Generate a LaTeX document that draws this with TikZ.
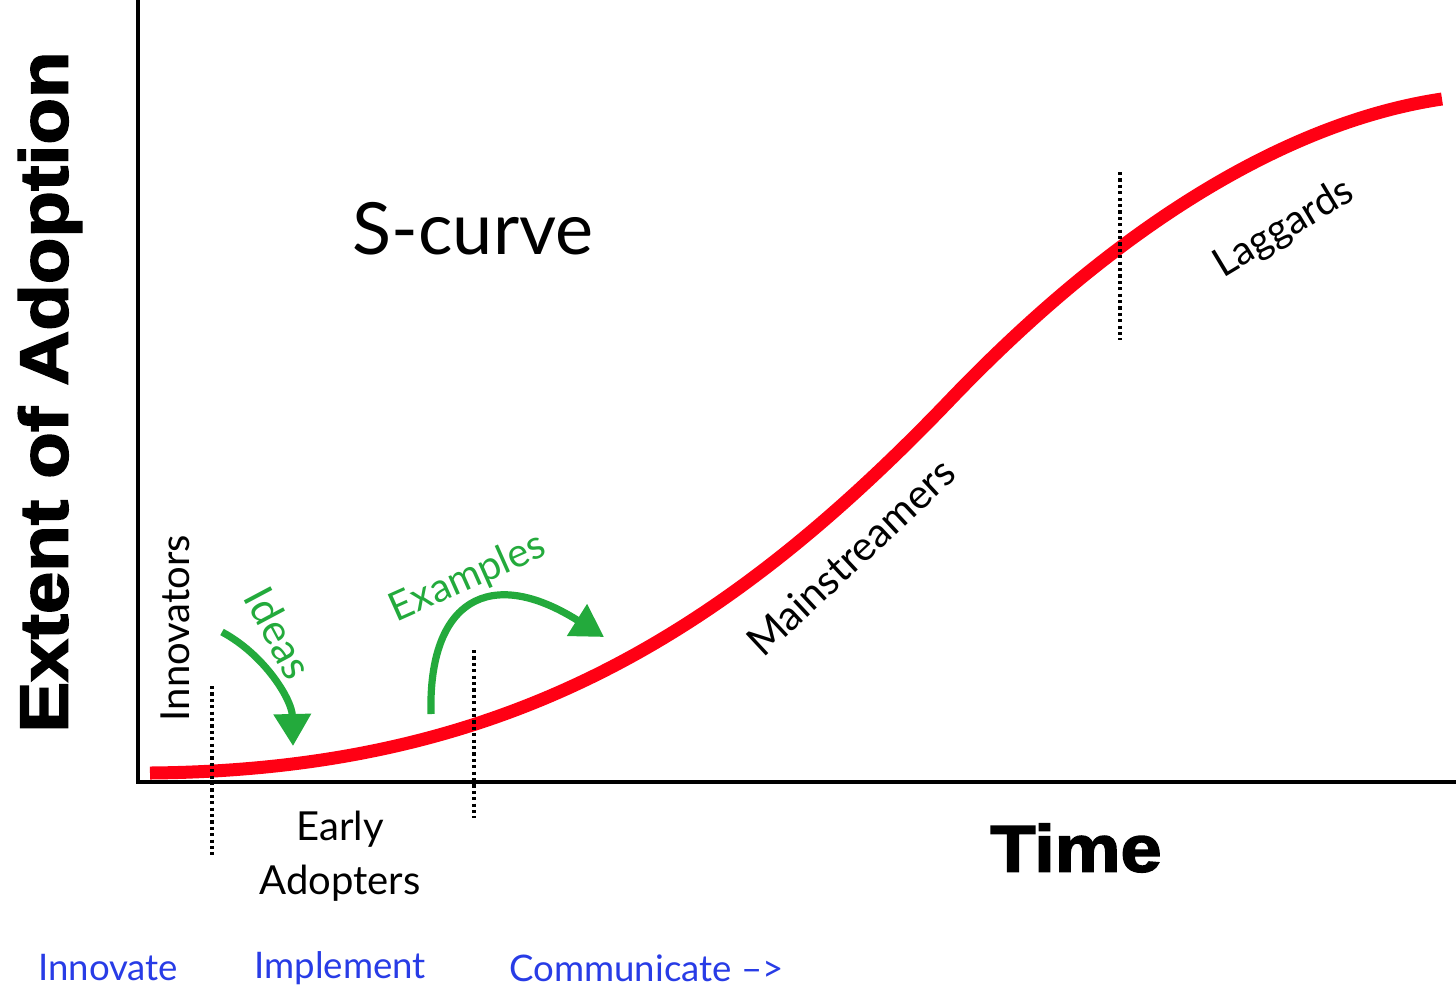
\documentclass[tikz,border=0pt]{standalone}
\usepackage{fontspec}
\setmainfont{Lato}
\newfontfamily\heavyfont[FakeBold=2.5,FakeStretch=1.12]{Liberation Sans Bold}
\usetikzlibrary{arrows.meta}
\definecolor{curvered}{RGB}{255,0,20}
\definecolor{arrowgreen}{RGB}{35,170,60}
\definecolor{stageblue}{RGB}{40,60,230}
\tikzset{
  axis/.style={line width=2.2pt,black},
  scurve/.style={line width=6.5pt,curvered},
  divider/.style={line width=1.6pt,black,dash pattern=on 1.6pt off 1.6pt},
  garrow/.style={line width=3.6pt,arrowgreen,-{Triangle[length=16pt,width=18pt]}},
  glabel/.style={text=arrowgreen,font=\fontsize{20}{22}\selectfont,inner sep=0pt},
  blabel/.style={text=black,font=\fontsize{20}{24}\selectfont,inner sep=0pt},
  stage/.style={text=stageblue,font=\fontsize{18.3}{22}\selectfont,inner sep=0pt,anchor=west},
  heavy/.style={text=black,inner sep=0pt}
}
\begin{document}
\begin{tikzpicture}[x=0.5pt,y=-0.5pt]
\useasboundingbox (0,0) rectangle (1456,1003);
% axes
\coordinate (orig) at (138,782);
\coordinate (ytop) at (138,0);
\coordinate (xend) at (1456,782);
\draw[axis] (ytop) -- (138,784);
\draw[axis] (136,782) -- (xend);
% S-curve
\coordinate (c0) at (150,773);
\coordinate (cm) at (950,400);
\coordinate (c1) at (1442,99);
\draw[scurve] (c0) .. controls (500,770) and (720,640) .. (cm)
  .. controls (1130,212) and (1300,120) .. (c1);
% dividers
\coordinate (d1t) at (212,686); \coordinate (d1b) at (212,855);
\coordinate (d2t) at (474,650); \coordinate (d2b) at (474,818);
\coordinate (d3t) at (1120,172); \coordinate (d3b) at (1120,340);
\draw[divider] (d1t) -- (d1b);
\draw[divider] (d2t) -- (d2b);
\draw[divider] (d3t) -- (d3b);
% titles
\node[blabel,font=\fontsize{36}{40}\selectfont] (scurvelabel) at (473,229) {S-curve};
\node[heavy,font=\heavyfont\fontsize{34}{36}\selectfont,rotate=90] (ylab) at (50,392) {Extent of Adoption};
\node[heavy,font=\heavyfont\fontsize{33}{36}\selectfont] (tlab) at (1076,848) {Time};
% group labels
\node[blabel,rotate=90] (innov) at (175,628) {Innovators};
\node[blabel,align=center,font=\fontsize{20}{27}\selectfont] (early) at (340,856) {Early\\Adopters};
\node[blabel,rotate=43,font=\fontsize{20.5}{24}\selectfont] (mainst) at (851,557) {Mainstreamers};
\node[blabel,rotate=31] (lagg) at (1284,229) {Laggards};
% green arrows
\node[glabel,rotate=-62,font=\fontsize{21}{24}\selectfont] (ideas) at (279,633) {Ideas};
\node[glabel,rotate=24] (examples) at (468,578) {Examples};
\coordinate (ia) at (222,632);
\coordinate (ib) at (293,746);
\draw[garrow] (ia) .. controls (265,655) and (292,700) .. (ib);
\coordinate (ea) at (431,714);
\coordinate (eb) at (604,637);
\draw[garrow] (ea) .. controls (428,600) and (490,565) .. (eb);
% stages
\node[stage] (s1) at (38,968) {Innovate};
\node[stage] (s2) at (254,968) {Implement};
\node[stage] (s3) at (509,968) {Communicate –>};
\end{tikzpicture}
\end{document}
